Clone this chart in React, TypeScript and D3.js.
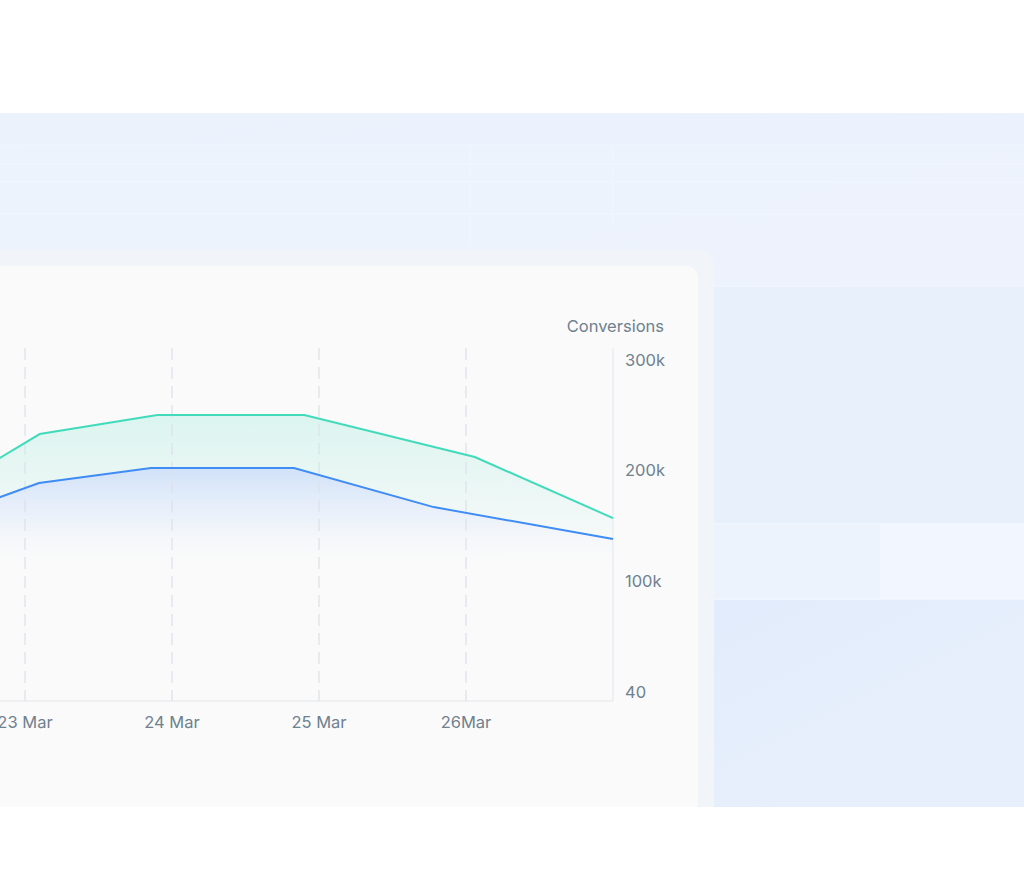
import React from "react";
import * as d3 from "d3";

// Data (x in days from 23 Mar)
const dayTicks = [0, 1, 2, 3];
const dayLabels = ["23 Mar", "24 Mar", "25 Mar", "26Mar"];
const greenX = [-1, 0.1, 0.9, 1.9, 3.06, 4.0];
const greenY = [144500, 232200, 249400, 249400, 211400, 156300];
const blueX = [-1, 0.095, 0.857, 1.83, 2.78, 4.0];
const blueY = [135500, 187900, 201500, 201500, 166200, 137300];
const yTickValues = [40, 100000, 200000, 300000];
const yTickLabels = ["40", "100k", "200k", "300k"];
const axisTitle = "Conversions";

export default function App() {
  const W = 1024, H = 882;
  const x = d3.scaleLinear().domain([-1, 4]).range([-122, 613]);
  const y = d3.scaleLinear().domain([40, 300000]).range([691, 359]);
  const green = greenX.map((d, i) => [d, greenY[i]] as [number, number]);
  const blue = blueX.map((d, i) => [d, blueY[i]] as [number, number]);
  const line = d3.line<[number, number]>().x(d => x(d[0])).y(d => y(d[1]));
  const areaDown = d3.area<[number, number]>().x(d => x(d[0])).y0(701).y1(d => y(d[1]));
  const areaUp = d3.area<[number, number]>().x(d => x(d[0])).y0(300).y1(d => y(d[1]));
  const font = "Inter, 'Noto Sans', sans-serif";
  const textColor = "#6f818e";
  const fs = 16.5;

  return (
    <svg width={W} height={H} style={{ position: "absolute", left: 0, top: 0 }}>
      <defs>
        <linearGradient id="panelBg" x1="0" y1="0" x2="0.3" y2="1">
          <stop offset="0" stopColor="#ecf2fc" />
          <stop offset="0.6" stopColor="#e9f1fc" />
          <stop offset="1" stopColor="#dfeafb" />
        </linearGradient>
        <linearGradient id="lowerBand" x1="0" y1="0" x2="1" y2="0.4">
          <stop offset="0" stopColor="#dae7fb" />
          <stop offset="1" stopColor="#e7effc" />
        </linearGradient>
        <linearGradient id="teal" gradientUnits="userSpaceOnUse" x1="0" y1="410" x2="0" y2="540">
          <stop offset="0" stopColor="#3fd9b8" stopOpacity="0.17" />
          <stop offset="1" stopColor="#3fd9b8" stopOpacity="0.02" />
        </linearGradient>
        <linearGradient id="blueFill" gradientUnits="userSpaceOnUse" x1="0" y1="460" x2="0" y2="570">
          <stop offset="0" stopColor="#c3d9f7" stopOpacity="0.85" />
          <stop offset="0.5" stopColor="#dbe8fa" stopOpacity="0.5" />
          <stop offset="1" stopColor="#fafafa" stopOpacity="0" />
        </linearGradient>
        <clipPath id="aboveBlue">
          <path d={areaUp(blue) || ""} />
        </clipPath>
      </defs>

      <rect x={0} y={0} width={W} height={H} fill="#ffffff" />
      {/* background panel */}
      <rect x={0} y={113} width={W} height={694} fill="url(#panelBg)" />
      <rect x={0} y={145} width={W} height={142} fill="#edf3fc" opacity={0.8} />
      {[145, 164, 182, 214, 287].map(v => (
        <line key={v} x1={0} x2={W} y1={v} y2={v} stroke="#f3f7fe" strokeWidth={1} opacity={0.7} />
      ))}
      <rect x={0} y={287} width={W} height={237} fill="#e8f0fc" />
      <rect x={0} y={524} width={W} height={75} fill="#ecf3fd" />
      <rect x={880} y={524} width={144} height={75} fill="#f2f6fe" />
      <line x1={0} x2={W} y1={524} y2={524} stroke="#f3f7fe" strokeWidth={1.5} />
      <line x1={0} x2={W} y1={599} y2={599} stroke="#f3f7fe" strokeWidth={1.5} />
      <rect x={0} y={600} width={W} height={207} fill="url(#lowerBand)" />
      <line x1={470} x2={470} y1={145} y2={287} stroke="#f2f6fd" opacity={0.7} />
      <line x1={613} x2={613} y1={145} y2={287} stroke="#f2f6fd" opacity={0.7} />

      {/* card frame */}
      <rect x={-30} y={250} width={744} height={600} rx={16} fill="#f1f4f9" />
      <rect x={-30} y={266} width={728} height={600} rx={12} fill="#fafafa" />

      {/* fills */}
      <path d={areaDown(green) || ""} fill="url(#teal)" clipPath="url(#aboveBlue)" />
      <path d={areaDown(blue) || ""} fill="url(#blueFill)" />

      {/* grid */}
      {dayTicks.map(d => (
        <line key={d} x1={x(d)} x2={x(d)} y1={348} y2={701} stroke="#dde1e6" strokeWidth={1.2} strokeDasharray="12 7" />
      ))}
      <line x1={613} x2={613} y1={348} y2={701} stroke="#e3e6ea" strokeWidth={1} />
      <line x1={0} x2={613} y1={701} y2={701} stroke="#e3e6ea" strokeWidth={1} />

      {/* lines */}
      <path d={line(green) || ""} fill="none" stroke="#41dbbc" strokeWidth={2} />
      <path d={line(blue) || ""} fill="none" stroke="#3f8cf6" strokeWidth={2} />

      {/* y axis labels */}
      {yTickValues.map((v, i) => (
        <text key={v} x={625} y={y(v) + 2} dominantBaseline="middle" fontFamily={font} fontSize={fs} fill={textColor}>
          {yTickLabels[i]}
        </text>
      ))}
      <text x={664} y={327} textAnchor="end" dominantBaseline="middle" fontFamily={font} fontSize={fs} fill={textColor}>
        {axisTitle}
      </text>

      {/* x axis labels */}
      {dayTicks.map((d, i) => (
        <text key={d} x={x(d)} y={723} textAnchor="middle" dominantBaseline="middle" fontFamily={font} fontSize={fs} fill={textColor}>
          {dayLabels[i]}
        </text>
      ))}

      <rect x={0} y={807} width={W} height={75} fill="#ffffff" />
    </svg>
  );
}
